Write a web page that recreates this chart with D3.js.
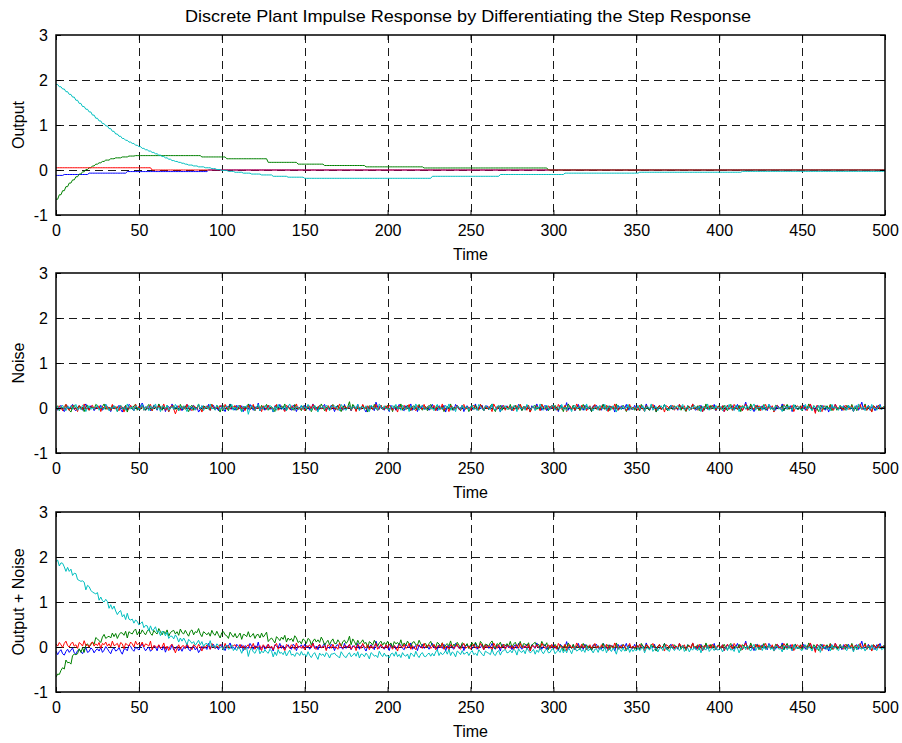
<!DOCTYPE html>
<html>
<head>
<meta charset="utf-8">
<script src="https://cdn.jsdelivr.net/npm/d3@7"></script>
<style>
  body { margin: 0; background: #fff; }
  svg { display: block; }
  text { font-family: "Liberation Sans", Arial, Helvetica, sans-serif; }
</style>
</head>
<body>
<svg id="fig" width="902" height="743"></svg>
<script>
// ---- axis ticks ----
const xTicks = [0, 50, 100, 150, 200, 250, 300, 350, 400, 450, 500];
const yTicks = [-1, 0, 1, 2, 3];

// ---- plant outputs (impulse response), held between breakpoints ----
const outCyanT = [0,2,4,6,8,10,12,14,16,18,20,22,24,26,28,30,32,34,36,38,40,42,44,46,48,50,52,54,56,58,60,62,64,66,68,70,72,74,76,78,80,83,86,90,94,97,100,104,108,113,118,124,131,140,150,227,268,307,352,414];
const outCyanV = [1.90,1.85,1.80,1.74,1.68,1.62,1.55,1.48,1.41,1.35,1.29,1.22,1.15,1.09,1.03,0.98,0.92,0.86,0.80,0.75,0.70,0.66,0.62,0.59,0.55,0.52,0.48,0.45,0.42,0.39,0.36,0.33,0.30,0.27,0.24,0.21,0.19,0.17,0.15,0.13,0.11,0.09,0.07,0.05,0.03,0.01,-0.01,-0.03,-0.05,-0.07,-0.09,-0.11,-0.14,-0.16,-0.185,-0.14,-0.10,-0.07,-0.05,-0.03];

const outGreenT = [0,2,4,6,8,10,12,14,16,18,20,22,24,26,28,30,33,36,40,44,48,88,103,128,146,162,187,222,297];
const outGreenV = [-0.65,-0.55,-0.46,-0.37,-0.29,-0.22,-0.15,-0.09,-0.04,0.01,0.05,0.09,0.13,0.16,0.19,0.22,0.25,0.27,0.29,0.31,0.32,0.29,0.25,0.17,0.13,0.10,0.07,0.045,0];

const outBlueT = [0,5,20,43,92];
const outBlueV = [-0.12,-0.10,-0.07,-0.035,0];

const outRedT = [0,58];
const outRedV = [0.05,0];

// ---- measurement noise, one sample per time step (hundredths) ----
const noiseBlue = [
3,-5,2,6,-3,-8,0,5,-2,3,8,-3,-6,2,5,0,-5,3,9,-2,-3,5,2,-6,0,
3,-2,6,-5,0,8,3,-3,-8,2,5,-2,0,6,-3,-9,2,3,-5,8,5,-2,-6,3,0,
-3,5,11,2,-5,0,3,-6,-2,6,3,-5,8,0,-3,5,-8,2,3,-2,9,-3,0,5,-5,
2,-6,3,0,8,-2,-5,3,6,-3,2,-9,-3,5,0,3,-2,8,-5,2,6,-3,0,-6,3,
5,-2,-8,3,2,9,-3,0,-5,6,2,-2,5,-8,3,0,-3,8,2,-5,3,-2,11,-6,0,
3,-5,2,6,-3,0,-9,5,2,-2,8,-3,3,-6,0,5,-2,-5,6,3,-8,2,0,5,-3,
6,-2,3,-5,0,9,-3,2,-6,5,-2,3,8,-5,0,-3,6,2,-8,3,5,-2,0,-5,8,
-3,2,5,-6,3,0,-2,8,-5,2,6,-3,-9,3,0,5,-2,-6,13,2,-3,5,0,-5,3,
2,-8,6,-2,3,-5,0,8,3,-3,-6,5,2,-2,9,-5,0,3,-8,5,-2,6,-3,0,2,
-5,3,8,-2,0,-6,5,2,-3,6,-9,3,0,5,-2,-5,8,3,-3,0,6,-8,2,5,-2,
3,-3,0,9,-5,2,-2,6,-6,3,5,-3,0,8,-2,-5,3,2,-9,6,0,-3,5,-2,3,
-6,2,5,-3,8,0,-5,3,-2,6,2,-8,5,0,-3,9,-2,3,-5,2,6,-6,0,3,-2,
5,-3,2,-8,6,3,-2,0,12,-5,2,-3,5,-6,0,8,-2,3,-5,6,-3,2,0,-8,5,
2,6,-3,0,-5,8,3,-2,-6,5,0,3,-9,2,6,-3,5,-2,0,8,-5,3,-2,-3,6,
-2,3,-6,5,2,-3,9,0,-5,3,-2,6,-8,2,5,-3,0,8,-2,-5,3,6,-3,0,2,
-5,8,-2,3,0,-6,5,2,-3,9,-2,-5,3,0,6,-8,2,5,-3,0,3,-2,8,-6,2,
3,-2,5,-8,0,6,-3,2,5,-5,0,8,-2,3,-6,2,13,-3,0,5,-2,-8,3,6,-3,
0,5,-3,2,-6,8,3,-2,0,-5,6,2,-3,9,-6,0,3,-2,5,-8,2,6,-3,0,3,
-2,6,-5,3,0,8,-3,2,-8,5,3,-2,6,0,-5,3,-9,2,5,-3,8,0,-2,3,-6,
5,2,-3,6,-2,0,-8,3,5,-5,2,13,-3,0,-2,6,-5,3,2,-6,5,0,8,-3,2,
-3];

const noiseGreen = [
-2,5,-6,3,0,-3,8,2,-5,-9,3,6,-2,0,5,-3,2,-8,3,6,-5,0,2,-3,8,
5,-2,-6,3,9,-3,0,2,-5,6,-2,3,-8,0,5,2,-3,6,-9,3,0,-2,5,8,-5,
2,-3,6,0,-5,3,8,-2,-6,5,0,-3,9,2,-5,3,-2,6,-8,0,3,5,-3,2,-6,
8,0,-3,5,-2,-8,3,6,-5,2,0,9,-3,-6,5,2,-2,3,-5,8,0,-3,6,-2,-9,
3,5,-2,0,-6,8,2,-3,5,-5,0,6,-8,3,2,-2,9,-3,0,5,-6,2,3,-5,6,
-3,2,8,-5,0,3,-2,-8,6,2,-3,5,0,9,-6,3,-2,2,-5,8,3,-3,0,-6,5,
2,-5,6,3,-8,0,5,-2,3,-3,9,2,-6,0,5,-5,3,8,-2,-3,6,0,-8,2,5,
-2,3,14,-5,8,2,-6,5,-3,0,6,-2,3,-9,5,2,-3,8,0,-5,2,6,-3,3,-2,
6,-3,2,-8,5,0,3,-2,9,-5,2,-3,6,0,-6,3,5,-2,-3,8,0,-5,2,3,-6,
3,8,-2,0,-5,6,2,-3,5,-8,0,3,-2,9,-5,2,-3,6,0,-6,5,2,-2,3,-8,
0,5,-3,6,-2,-5,8,3,-6,2,0,-3,5,9,-2,-8,3,0,6,-5,2,-2,3,-3,8,
-5,2,6,-3,0,8,-6,3,2,-2,5,-9,0,3,6,-3,2,-5,8,0,-2,5,-6,3,2,
-3,6,0,-5,3,2,-8,5,-2,9,0,-3,6,-5,2,3,-6,0,8,-2,5,-3,2,-8,3,
6,-2,3,-5,0,8,-3,2,5,-6,3,0,-2,9,-5,2,-3,6,0,-8,3,5,-2,2,-5,
0,3,-6,8,2,-3,5,-2,-5,6,0,3,-9,2,5,-3,0,8,-2,-6,3,2,-3,5,0,
-2,6,-5,3,0,-8,5,2,-3,8,-2,0,5,-6,3,2,-5,9,0,-3,6,-2,3,-5,2,
5,-3,0,6,-2,-6,3,8,-5,2,0,-3,6,-8,5,2,-2,3,-5,9,0,-3,2,5,-6,
3,-2,8,-5,0,5,-3,2,-8,6,3,-2,0,5,-6,2,8,-3,0,-5,3,6,-2,-3,5,
-6,2,3,-3,9,0,-5,5,2,-2,-8,6,3,-3,0,5,-2,8,-6,2,3,-5,0,6,-3,
2,-5,6,0,-3,8,-2,3,-6,5,2,-3,0,9,-5,3,-2,-8,5,2,-3,6,0,-2,3,
2];

const noiseRed = [
2,-3,5,0,-6,3,8,-2,-5,2,6,-3,0,-8,5,2,-3,9,-2,0,-5,3,6,-3,2,
-2,5,-8,3,0,6,-3,2,-5,8,-2,0,3,-6,5,2,-9,3,0,-3,6,2,-5,8,0,
3,-2,6,-5,2,0,-3,8,-6,3,2,-2,5,-3,0,9,-5,2,-8,3,6,-2,-13,-3,5,
-5,2,3,-3,8,0,-2,-6,5,2,-3,6,0,-9,3,-2,5,2,-5,8,0,-3,3,-2,6,
0,-5,8,-2,3,-3,2,3,5,0,-3,6,-2,3,-6,2,5,-3,0,8,-5,2,-2,3,-8,
5,0,-3,6,-2,2,-6,3,8,-5,0,3,-2,-8,6,2,-3,5,0,-5,9,-2,2,-3,3,
-6,3,0,5,-2,8,-3,-5,2,6,-2,0,3,-8,5,2,-3,6,-2,0,-5,9,2,-3,3,
2,-2,6,-5,0,3,-8,5,2,-3,8,0,-2,5,-6,3,-3,2,8,-5,0,6,-2,-3,5,
-3,6,2,-5,3,0,-9,5,2,-2,6,-3,0,8,-5,3,-2,-6,5,2,0,-3,8,-2,3,
5,-3,0,6,-6,2,3,-2,9,-5,0,2,-8,5,3,-3,0,6,-2,-5,3,8,-3,0,2,
-5,3,6,-2,0,-3,8,2,-6,5,-2,3,0,-8,9,2,-3,5,-2,0,6,-5,3,2,-3,
3,-6,2,5,-3,8,0,-2,3,-5,6,-9,2,3,-2,5,0,-6,8,2,-3,0,5,-3,6,
-2,3,-5,8,2,-3,0,6,-8,3,5,-2,0,-5,9,2,-3,6,-2,3,-6,0,5,-3,2,
8,-3,2,-5,5,0,-2,6,-8,3,2,-3,9,0,-5,3,-2,5,2,-6,0,8,-3,2,-2,
3,-5,6,0,-2,-8,5,3,-3,2,8,-2,-5,0,6,-3,2,-9,5,3,-2,0,6,-5,2,
-3,8,2,-2,5,-6,0,3,-3,9,-2,2,-5,6,0,-8,3,2,-2,5,-3,6,0,-5,3,
2,-3,5,-8,0,6,-2,3,-5,8,2,-3,0,5,-6,2,9,-5,-2,3,0,-3,6,-2,5,
-6,3,0,8,-3,2,-2,5,-9,3,6,-2,0,-5,8,2,-3,3,-2,6,-8,0,5,2,-3,
5,-2,3,-6,2,9,-3,0,-12,6,2,-2,-8,5,3,-3,0,6,-2,-5,8,2,-3,3,0,
-5,6,2,-3,0,5,-8,3,2,-2,8,-3,0,6,-5,2,3,-9,5,0,-2,6,-3,2,-2,
3];

const noiseCyan = [
0,3,-5,2,6,-2,-6,3,0,5,-3,2,8,-5,0,-2,6,3,-8,2,5,-3,0,-2,3,
6,-5,2,0,-3,8,3,-6,2,-2,5,0,-8,3,6,-3,2,-5,9,0,-2,3,-6,5,2,
-3,0,8,-5,3,2,-6,5,-2,0,9,-3,2,-8,5,3,-2,6,-5,0,3,-3,8,2,-6,
3,-2,5,0,-8,6,2,-3,3,-5,0,8,-2,5,-6,2,3,-3,9,-2,0,-5,6,3,-3,
2,-6,3,5,-2,0,8,-5,2,-3,6,0,-9,3,2,5,-14,0,6,-2,-5,3,8,-6,2,
-2,5,0,-3,6,2,-8,3,-5,8,0,2,-3,5,-6,3,9,-2,0,-5,3,2,-3,6,-2,
3,-3,8,0,-5,2,6,-2,-9,5,0,3,-3,6,2,-6,3,3,5,0,-2,-6,8,2,-3,
-5,2,6,-3,0,5,-2,8,-6,3,2,-3,5,0,-8,6,3,-2,0,-5,9,2,-3,5,-2,
0,-6,3,5,-2,8,-3,2,-5,6,0,-2,3,-8,5,2,-3,9,0,-5,3,6,-2,-3,2,
5,-2,0,-6,3,8,-5,2,-3,0,6,-2,9,-5,3,0,-8,5,2,-3,6,-2,0,3,-5,
2,6,-3,0,-5,8,3,-2,-6,5,2,0,-3,9,-2,-5,3,6,-8,0,2,5,-3,-2,3,
-3,5,2,-8,6,0,-2,3,-5,8,2,-3,0,5,-6,3,-2,9,0,-5,2,6,-3,-2,5,
6,-5,0,3,-2,8,-3,2,-6,5,0,-8,3,6,-2,0,5,-3,2,-5,9,-2,3,0,-6,
2,3,-5,6,0,-2,8,-6,3,2,-3,5,0,-9,6,2,-3,5,-2,0,8,-5,3,-3,2,
-2,6,-3,0,5,-8,2,3,-2,9,-5,0,3,-6,2,5,-3,8,0,-2,-5,6,2,-3,3,
5,-3,2,8,-5,0,3,-6,2,-2,6,0,-3,5,-8,3,2,-2,9,-5,0,3,-3,6,-2,
0,3,-6,2,5,-3,8,-2,0,-5,6,3,-8,2,0,5,-3,6,-2,-6,3,9,-5,2,0,
3,-5,6,-2,0,8,-3,2,-6,5,3,-2,0,-8,6,2,-3,5,0,-5,8,-2,3,2,-3,
-5,2,8,-3,3,0,-6,5,2,-2,6,-9,3,0,5,-3,2,-6,8,0,3,-2,-5,6,2,
3,-2,-5,6,0,2,-8,5,-3,9,0,-2,3,-6,2,5,-3,8,-2,0,-5,3,6,-3,0,
-2];

// ---- figure ----
const svg = d3.select("#fig");
const plotLeft = 56, plotRight = 885, plotH = 180;
const panelTops = [35, 273, 512];
const fontSize = 16;

const seriesOrder = ["blue", "green", "red", "cyan"];
const colour = { blue: "#0000ff", green: "#008000", red: "#ff0000", cyan: "#00bfbf" };
const outputs = {
  blue:  { t: outBlueT,  v: outBlueV },
  green: { t: outGreenT, v: outGreenV },
  red:   { t: outRedT,   v: outRedV },
  cyan:  { t: outCyanT,  v: outCyanV }
};
const noise = { blue: noiseBlue, green: noiseGreen, red: noiseRed, cyan: noiseCyan };

const x = d3.scaleLinear().domain([xTicks[0], xTicks[xTicks.length - 1]]).range([plotLeft, plotRight]);

// value of a held (zero-order-hold) output at sample k
function outputAt(name, k) {
  const o = outputs[name];
  const i = d3.bisectRight(o.t, k) - 1;
  return o.v[Math.max(i, 0)];
}

function outputSeries(name) {
  return noise[name].map((n, k) => [k, outputAt(name, k)]);
}
function noiseSeries(name) {
  return noise[name].map((n, k) => [k, n / 100]);
}
function sumSeries(name) {
  return noise[name].map((n, k) => [k, outputAt(name, k) + n / 100]);
}

const panels = [
  { label: "Output",         data: outputSeries },
  { label: "Noise",          data: noiseSeries },
  { label: "Output + Noise", data: sumSeries }
];

svg.append("text")
  .attr("x", 468)
  .attr("y", 22)
  .attr("text-anchor", "middle")
  .attr("font-size", 17)
  .attr("textLength", 566)
  .attr("lengthAdjust", "spacingAndGlyphs")
  .text("Discrete Plant Impulse Response by Differentiating the Step Response");

panels.forEach((p, k) => {
  const top = panelTops[k], bottom = top + plotH;
  const y = d3.scaleLinear().domain([yTicks[0], yTicks[yTicks.length - 1]]).range([bottom, top]);
  const g = svg.append("g");

  const clipId = "clip" + k;
  g.append("clipPath").attr("id", clipId)
    .append("rect").attr("x", plotLeft).attr("y", top)
    .attr("width", plotRight - plotLeft).attr("height", plotH);

  // dashed grid
  const grid = g.append("g").attr("stroke", "#1a1a1a").attr("stroke-width", 1)
    .attr("stroke-dasharray", "8,5").attr("fill", "none");
  xTicks.slice(1, -1).forEach(t => {
    const xx = Math.round(x(t)) + 0.5;
    grid.append("line").attr("x1", xx).attr("x2", xx).attr("y1", top).attr("y2", bottom);
  });
  yTicks.slice(1, -1).forEach(v => {
    const yy = Math.round(y(v)) + 0.5;
    grid.append("line").attr("x1", plotLeft).attr("x2", plotRight).attr("y1", yy).attr("y2", yy);
  });

  // series
  const line = d3.line().x(d => x(d[0])).y(d => y(d[1]));
  const lines = g.append("g").attr("clip-path", `url(#${clipId})`);
  seriesOrder.forEach(name => {
    lines.append("path")
      .datum(p.data(name))
      .attr("fill", "none")
      .attr("stroke", colour[name])
      .attr("stroke-width", 1)
      .attr("stroke-linejoin", "round")
      .attr("d", line);
  });

  // axes with inward ticks
  const fmt = d => String(d);
  const styleAxis = sel => {
    sel.select(".domain").remove();
    sel.selectAll(".tick line").attr("stroke", "#000");
    sel.selectAll("text").attr("font-size", fontSize).attr("fill", "#000")
      .attr("font-family", "'Liberation Sans', Arial, sans-serif");
  };
  g.append("g").attr("transform", `translate(0,${bottom})`)
    .call(d3.axisBottom(x).tickValues(xTicks).tickFormat(fmt).tickSizeInner(-5).tickSizeOuter(0).tickPadding(10))
    .call(styleAxis);
  g.append("g").attr("transform", `translate(0,${top})`)
    .call(d3.axisTop(x).tickValues(xTicks).tickFormat("").tickSizeInner(-5).tickSizeOuter(0))
    .call(styleAxis);
  g.append("g").attr("transform", `translate(${plotLeft},0)`)
    .call(d3.axisLeft(y).tickValues(yTicks).tickFormat(fmt).tickSizeInner(-5).tickSizeOuter(0).tickPadding(8))
    .call(styleAxis);
  g.append("g").attr("transform", `translate(${plotRight},0)`)
    .call(d3.axisRight(y).tickValues(yTicks).tickFormat("").tickSizeInner(-5).tickSizeOuter(0))
    .call(styleAxis);

  // axes box
  g.append("rect")
    .attr("x", plotLeft).attr("y", top)
    .attr("width", plotRight - plotLeft).attr("height", plotH)
    .attr("fill", "none").attr("stroke", "#000").attr("stroke-width", 1.5);

  // labels
  g.append("text")
    .attr("x", (plotLeft + plotRight) / 2)
    .attr("y", bottom + 45)
    .attr("text-anchor", "middle")
    .attr("font-size", fontSize)
    .text("Time");
  g.append("text")
    .attr("transform", `translate(24,${(top + bottom) / 2}) rotate(-90)`)
    .attr("text-anchor", "middle")
    .attr("font-size", fontSize)
    .text(p.label);
});
</script>
</body>
</html>
